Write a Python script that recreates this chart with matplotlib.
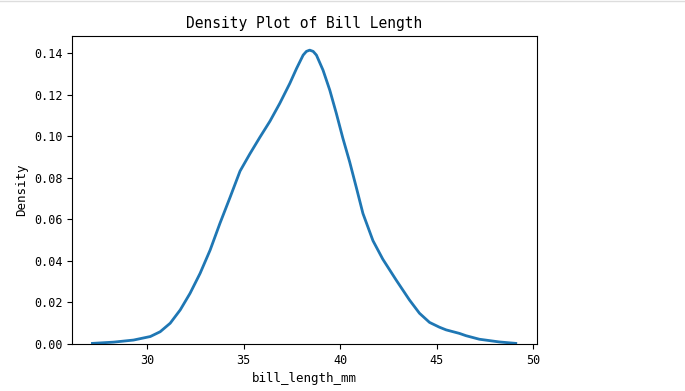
import numpy as np
import matplotlib.pyplot as plt
from matplotlib.lines import Line2D

# points (bill length in mm, density)
bill_length = [27.16, 28.26, 29.29, 30.16, 30.67, 31.19, 31.71, 32.22, 32.74, 33.26,
               33.77, 34.29, 34.81, 35.32, 35.84, 36.36, 36.87, 37.39, 37.74, 38.08,
               38.25, 38.42, 38.6, 38.77, 39.11, 39.46, 39.80, 40.14, 40.49, 40.84,
               41.18, 41.70, 42.21, 42.90, 43.59, 44.11, 44.63, 45.14, 45.49, 46.18,
               46.52, 47.21, 48.24, 49.10]
density = [0.0003, 0.0009, 0.0019, 0.0036, 0.0059, 0.0100, 0.0164, 0.0244, 0.0340, 0.0452,
           0.0581, 0.0705, 0.0832, 0.0915, 0.0995, 0.1072, 0.1158, 0.1254, 0.1326, 0.1390,
           0.1408, 0.1414, 0.1408, 0.1390, 0.1318, 0.1222, 0.1110, 0.0990, 0.0877, 0.0752,
           0.0628, 0.0497, 0.0408, 0.0308, 0.0212, 0.0148, 0.0104, 0.0081, 0.0068, 0.0051,
           0.0040, 0.0023, 0.0010, 0.0003]

plt.rcParams['font.family'] = ['DejaVu Sans Mono']

fig = plt.figure(figsize=(6.85, 3.91), dpi=100)
ax = fig.add_axes([0.1051, 0.1202, 0.6788, 0.7877])

ax.plot(bill_length, density, color='#1f77b4', linewidth=2, solid_joinstyle='round')
ax.set_xlim(26.1, 50.2)
ax.set_ylim(0, 0.1482)
ax.set_xticks([30, 35, 40, 45, 50])
ax.set_yticks(np.arange(0, 0.141, 0.02))
ax.set_yticklabels(['%.2f' % v for v in np.arange(0, 0.141, 0.02)])
ax.tick_params(labelsize=8.5)

ax.set_title('Density Plot of Bill Length', fontsize=10.5)
ax.set_xlabel('bill_length_mm', fontsize=9)
ax.set_ylabel('Density', fontsize=9)

# thin grey rule along the very top of the image
fig.add_artist(Line2D([0, 1], [0.998, 0.998], transform=fig.transFigure,
                      color='#dddddd', linewidth=1))

fig.savefig('out.png', dpi=100)
